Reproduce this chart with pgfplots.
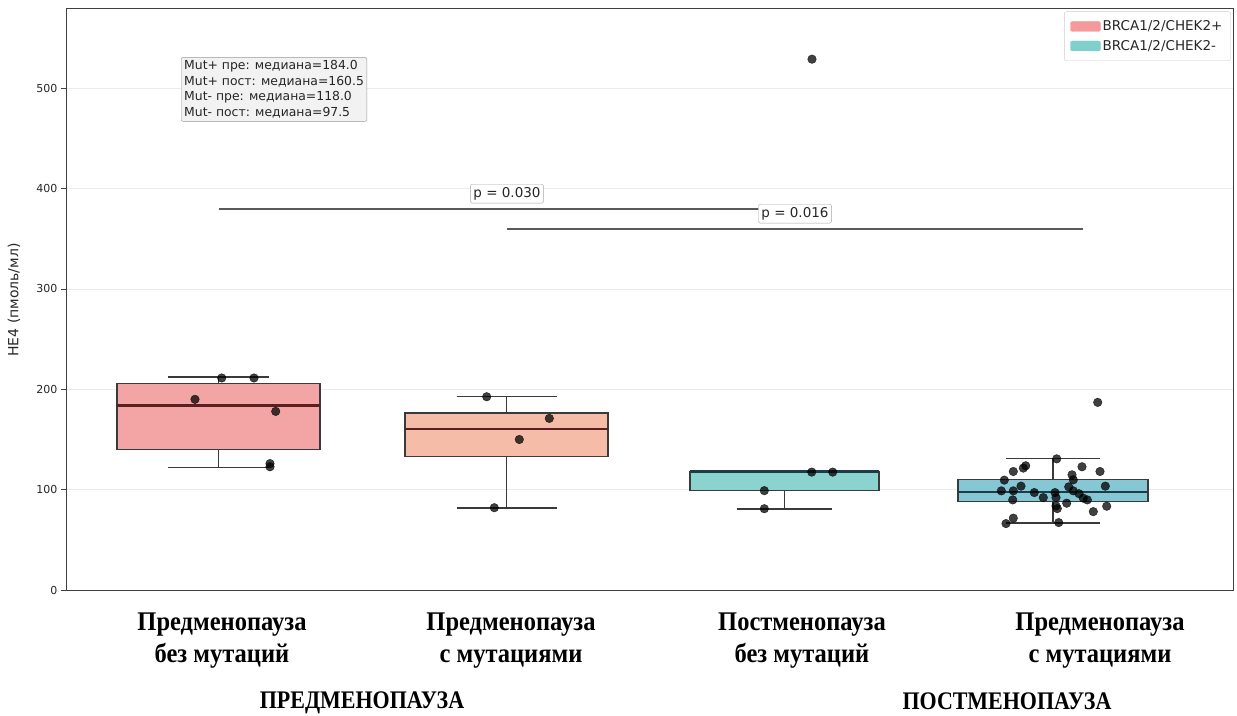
\documentclass[border=0pt]{standalone}
\usepackage{pgfplots}
\pgfplotsset{compat=1.18}
\usepgfplotslibrary{statistics}
\usepackage{pgfplotstable}
\usepackage{graphicx}
\usepackage{fontspec}
\setmainfont{DejaVu Sans}
\newfontfamily\catfont{Liberation Serif}

\definecolor{boxA}{HTML}{F3A5A5}
\definecolor{boxB}{HTML}{F5BDA8}
\definecolor{boxC}{HTML}{8AD3CF}
\definecolor{boxD}{HTML}{86C7D6}
\definecolor{legred}{HTML}{F59A9A}
\definecolor{legteal}{HTML}{7FD0CB}
\definecolor{medA}{HTML}{5C1F1F}
\definecolor{medB}{HTML}{1E3C48}
\definecolor{edge}{HTML}{3A3A3A}

\pgfplotstableread{
x y
155.7 211.3
188 211.3
129 190
209.7 178
204 126
204 122.8
}\ptsA
\pgfplotstableread{
x y
420.7 192.6
483.3 171
453.3 150
428.3 82
}\ptsB
\pgfplotstableread{
x y
745.7 117.5
766.7 117.5
698.3 99
698.3 81
746 529
}\ptsC
\pgfplotstableread{
x y
1031.7 187
990.7 130.7
959.7 123.8
957.3 121.5
947.3 118.1
1016 122.8
1034 118.1
1006 114.8
1007.3 109.8
938.3 109.5
955 103.5
1039.3 103.5
1002.7 102.8
935.3 98.8
947.3 98.8
968.3 97.1
989 97.1
1007.3 98.8
977.3 92.1
946.7 89.8
990 92.1
1017.3 91.5
1021.3 89.8
1000.7 86.5
990 83.8
991.3 81.1
1040.7 83.5
1027.3 78.1
947.3 71.6
940 66.2
992.7 67.2
1013 96
}\ptsD

\begin{document}
\begin{tikzpicture}
\begin{axis}[
  width=1167pt, height=582pt, scale only axis,
  xmin=0, xmax=1167, ymin=0, ymax=580,
  xtick=\empty, ytick={0,100,...,500},
  tick pos=left,
  tick align=outside, major tick length=5pt,
  boxplot/draw direction=y,
  boxplot/every whisker/.style={draw=edge, line width=1.6pt},
  boxplot/every box/.style={draw=edge, line width=1.5pt},
  ymajorgrids, grid style={draw=black!8, line width=0.7pt},
  axis line style={draw=black!75, line width=0.9pt},
  ytick style={draw=black!75, line width=0.9pt},
  y tick label style={font=\fontsize{11}{13}\selectfont, text=black!85},
  /pgf/number format/assume math mode=true,
  clip=false,
  legend style={at={(axis description cs:0.998,0.994)}, anchor=north east,
    draw=black!20, rounded corners=2pt, font=\fontsize{13.5}{15}\selectfont,
    inner xsep=6pt, inner ysep=7pt, row sep=4pt, text=black!85},
  legend cell align=left,
]
\addlegendimage{legend image code/.code={\fill[legred] (0pt,-5pt) rectangle (30pt,5pt);}}
\addlegendentry{BRCA1/2/CHEK2+}
\addlegendimage{legend image code/.code={\fill[legteal] (0pt,-5pt) rectangle (30pt,5pt);}}
\addlegendentry{BRCA1/2/CHEK2-}

\addplot[forget plot, fill=boxA, draw=edge, line width=1.5pt,
  boxplot/every median/.style={draw=medA, line width=2.6pt},
  boxplot prepared={draw position=152.5, lower whisker=122, lower quartile=140,
    median=184, upper quartile=206, upper whisker=212, box extend=203, whisker extend=101}]
  coordinates {};
\addplot[forget plot, fill=boxB, draw=edge, line width=1.5pt,
  boxplot/every median/.style={draw=medA, line width=2.6pt},
  boxplot prepared={draw position=440.5, lower whisker=82, lower quartile=133,
    median=160.5, upper quartile=176.5, upper whisker=193, box extend=203, whisker extend=100}]
  coordinates {};
\addplot[forget plot, fill=boxC, draw=edge, line width=1.5pt,
  boxplot/every median/.style={draw=medB, line width=2.6pt},
  boxplot prepared={draw position=718.5, lower whisker=81, lower quartile=99,
    median=118, upper quartile=118, upper whisker=118, box extend=189, whisker extend=95}]
  coordinates {};
\addplot[forget plot, fill=boxD, draw=edge, line width=1.5pt,
  boxplot/every median/.style={draw=medB, line width=2.6pt},
  boxplot prepared={draw position=987, lower whisker=67, lower quartile=88,
    median=97.5, upper quartile=110, upper whisker=131, box extend=190, whisker extend=94}]
  coordinates {};

\addplot[forget plot, only marks, mark=*, mark size=4.3pt,
  mark options={fill=black, draw=black, fill opacity=0.75, draw opacity=0.75}] table {\ptsA};
\addplot[forget plot, only marks, mark=*, mark size=4.3pt,
  mark options={fill=black, draw=black, fill opacity=0.75, draw opacity=0.75}] table {\ptsB};
\addplot[forget plot, only marks, mark=*, mark size=4.3pt,
  mark options={fill=black, draw=black, fill opacity=0.75, draw opacity=0.75}] table {\ptsC};
\addplot[forget plot, only marks, mark=*, mark size=4.3pt,
  mark options={fill=black, draw=black, fill opacity=0.75, draw opacity=0.75}] table {\ptsD};

\addplot[forget plot, draw=black!65, line width=1.8pt] coordinates {(152.5,380) (718.5,380)};
\addplot[forget plot, draw=black!65, line width=1.8pt] coordinates {(441,360) (1017,360)};

\node[draw=black!35, fill=white, rounded corners=2pt, inner sep=3pt,
  font=\fontsize{13.5}{15}\selectfont, text=black!85] at (axis cs:441,395) {p = 0.030};
\node[draw=black!35, fill=white, rounded corners=2pt, inner sep=3pt,
  font=\fontsize{13.5}{15}\selectfont, text=black!85] at (axis cs:729,375) {p = 0.016};

\node[anchor=north west, draw=black!40, fill=black!5, rounded corners=2pt, align=left,
  inner sep=3pt, font=\fontsize{12.4}{15.7}\selectfont, text=black!85] at (axis cs:115,531)
  {Mut+ пре: медиана=184.0\\Mut+ пост: медиана=160.5\\Mut- пре: медиана=118.0\\Mut- пост: медиана=97.5};
\end{axis}

\node[rotate=90, font=\fontsize{14}{16}\selectfont, text=black!85] at (-52pt,290pt) {HE4 (пмоль/мл)};

\begin{scope}[every node/.style={anchor=base, font=\catfont\bfseries\fontsize{24.5}{28}\selectfont}]
\node at (156pt,-40pt) {\scalebox{1}[1.1]{Предменопауза}};
\node at (156pt,-72pt) {\scalebox{1}[1.1]{без мутаций}};
\node at (445pt,-40pt) {\scalebox{1}[1.1]{Предменопауза}};
\node at (445pt,-72pt) {\scalebox{1}[1.1]{с мутациями}};
\node at (736pt,-40pt) {\scalebox{1}[1.1]{Постменопауза}};
\node at (736pt,-72pt) {\scalebox{1}[1.1]{без мутаций}};
\node at (1034pt,-40pt) {\scalebox{1}[1.1]{Предменопауза}};
\node at (1034pt,-72pt) {\scalebox{1}[1.1]{с мутациями}};
\end{scope}
\node[anchor=base, font=\catfont\bfseries\fontsize{22}{26}\selectfont] at (296pt,-118pt) {\scalebox{1}[1.15]{ПРЕДМЕНОПАУЗА}};
\node[anchor=base, font=\catfont\bfseries\fontsize{22}{26}\selectfont] at (941pt,-119pt) {\scalebox{1}[1.15]{ПОСТМЕНОПАУЗА}};

\pgfresetboundingbox
\useasboundingbox (-66pt,-125pt) rectangle (1171pt,590pt);
\end{tikzpicture}
\end{document}
